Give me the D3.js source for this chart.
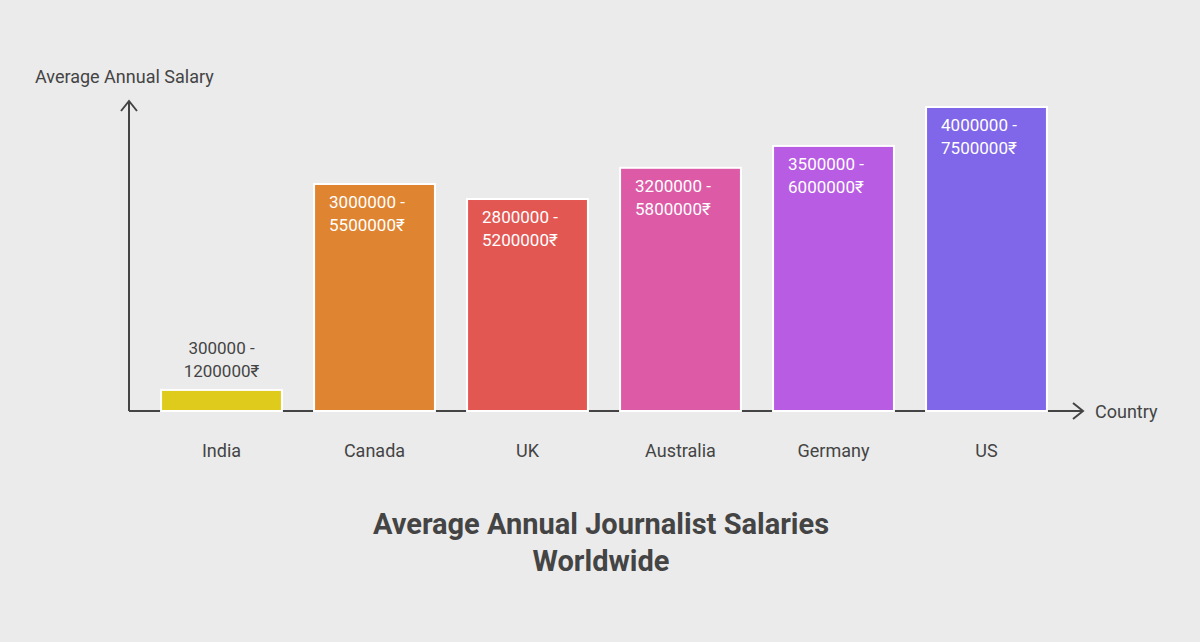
<!DOCTYPE html><html><head><meta charset="utf-8">
<script src="https://cdn.jsdelivr.net/npm/d3@7"></script>
<style>body{margin:0;background:#ebebeb}text{font-family:Roboto,sans-serif}</style></head><body>
<svg id="c" width="1200" height="642"></svg>
<script>
const categories=["India","Canada","UK","Australia","Germany","US"];
const rangeLow=["300000","3000000","2800000","3200000","3500000","4000000"];
const rangeHigh=["1200000₹","5500000₹","5200000₹","5800000₹","6000000₹","7500000₹"];
const barValues=[0.52,5.6,5.23,6.0,6.54,7.5];
const colors=["#dfcb1b","#df8430","#e35753","#dc5aa6","#b85ce3","#8066e8"];
const svg=d3.select("#c");
svg.append("rect").attr("width",1200).attr("height",642).attr("fill","#ebebeb");
const x=d3.scaleBand().domain(categories).range([145,1063]).paddingInner(0.21).paddingOuter(0.105);
const y=d3.scaleLinear().domain([0,7.5]).range([411,107]);
const ax="#444";
svg.append("line").attr("x1",129).attr("x2",129).attr("y1",411).attr("y2",101).attr("stroke",ax).attr("stroke-width",2);
svg.append("path").attr("d","M121,111 L129,101 L137,111").attr("fill","none").attr("stroke",ax).attr("stroke-width",2);
svg.append("line").attr("x1",129).attr("x2",1083).attr("y1",411).attr("y2",411).attr("stroke",ax).attr("stroke-width",2);
svg.append("path").attr("d","M1073,403 L1083,411 L1073,419").attr("fill","none").attr("stroke",ax).attr("stroke-width",2);
svg.append("text").attr("x",35).attr("y",83).attr("font-size",18).attr("fill",ax).text("Average Annual Salary");
svg.append("text").attr("x",1095).attr("y",418).attr("font-size",18).attr("fill",ax).text("Country");
categories.forEach((c,i)=>{
  const bx=x(c),bw=x.bandwidth(),top=y(barValues[i]);
  svg.append("rect").attr("x",bx).attr("y",top).attr("width",bw).attr("height",411-top).attr("fill",colors[i]).attr("stroke","#fff").attr("stroke-width",2);
  svg.append("text").attr("x",bx+bw/2).attr("y",457).attr("text-anchor","middle").attr("font-size",18).attr("fill",ax).text(c);
  const inside=(411-top)>60;
  const t=svg.append("text").attr("font-size",17).attr("fill",inside?"#fff":ax);
  if(inside){
    t.append("tspan").attr("x",bx+15).attr("y",top+24).text(rangeLow[i]+" -");
    t.append("tspan").attr("x",bx+15).attr("y",top+47).text(rangeHigh[i]);
  } else {
    t.attr("text-anchor","middle");
    t.append("tspan").attr("x",bx+bw/2).attr("y",top-36).text(rangeLow[i]+" -");
    t.append("tspan").attr("x",bx+bw/2).attr("y",top-13).text(rangeHigh[i]);
  }
});
const tt=svg.append("text").attr("text-anchor","middle").attr("font-size",29).attr("font-weight","bold").attr("fill",ax);
tt.append("tspan").attr("x",601).attr("y",534).text("Average Annual Journalist Salaries");
tt.append("tspan").attr("x",601).attr("y",571).text("Worldwide");
</script></body></html>
